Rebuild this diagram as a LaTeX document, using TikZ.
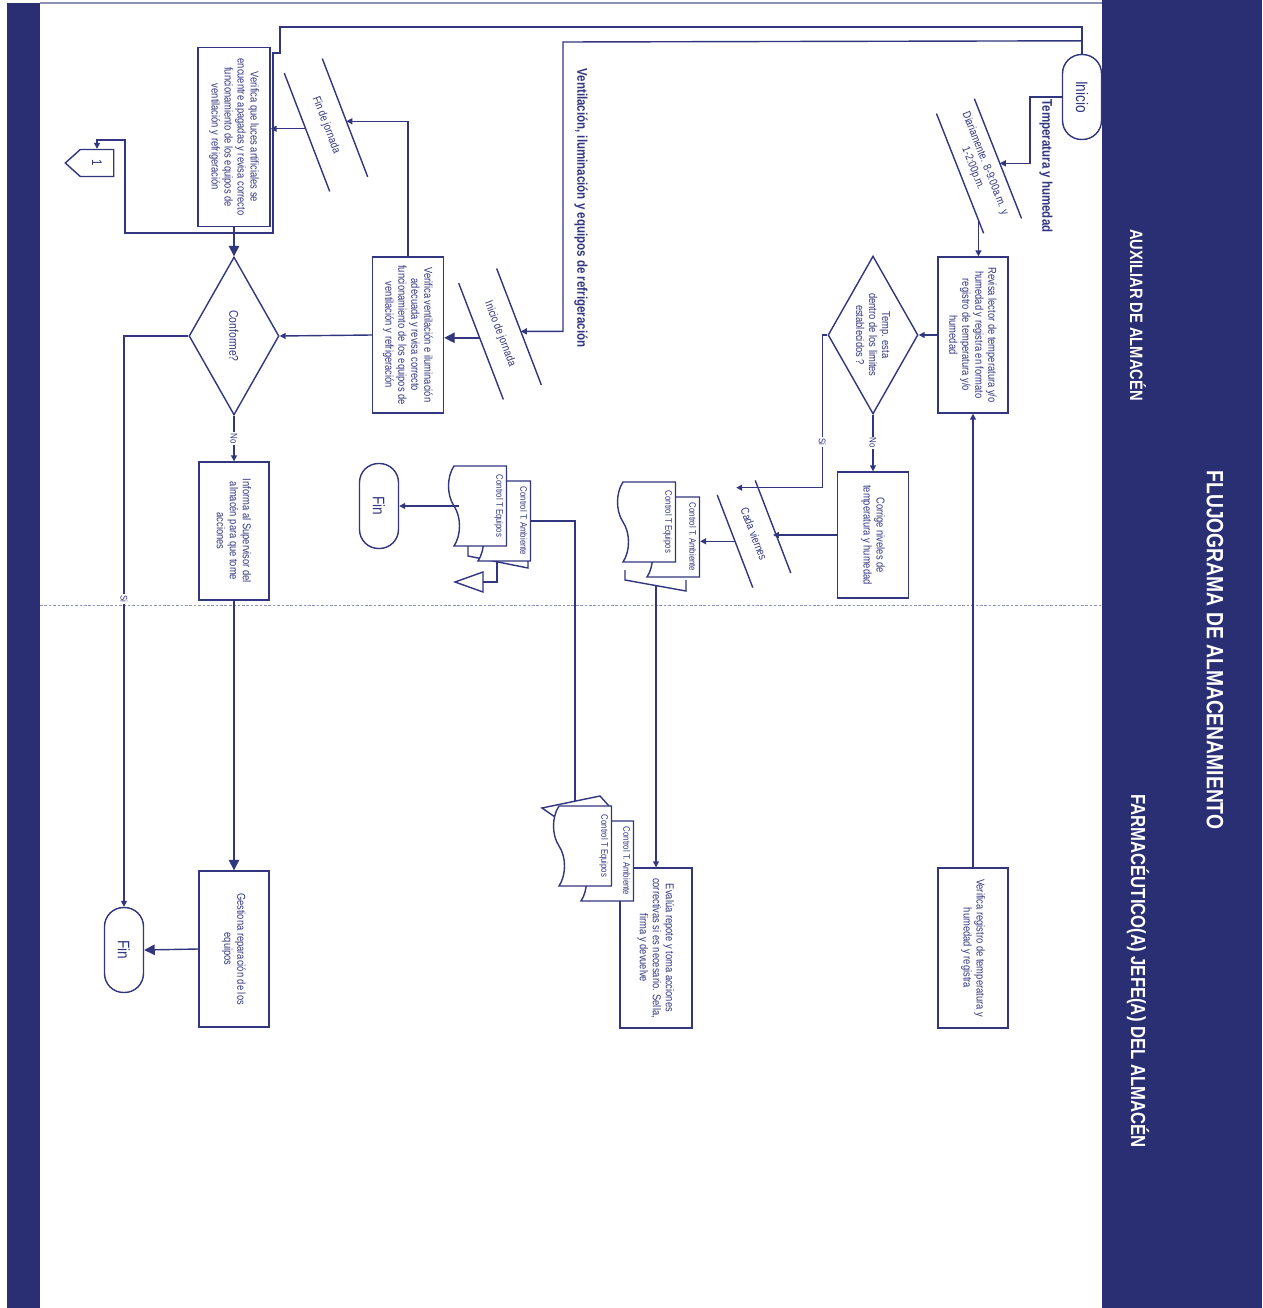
\documentclass[tikz,border=0pt]{standalone}
\usepackage{fontspec}
\setmainfont[FakeStretch=0.82]{Liberation Sans}
\usetikzlibrary{shapes.geometric,shapes.symbols,arrows.meta,calc,positioning}
\definecolor{navyband}{RGB}{42,47,116}
\definecolor{flowline}{RGB}{50,54,126}
\definecolor{framegrey}{RGB}{140,146,180}
\newcommand{\flowtxt}{\fontsize{6.5}{7.4}\selectfont}
\newcommand{\ioedges}[1]{\draw[ln] (#1.north west) -- (#1.north east) (#1.south west) -- (#1.south east);}

\begin{document}
\begin{tikzpicture}[x=0.02cm,y=-0.02cm,
    ln/.style={draw=flowline,line width=0.8pt},
    arr/.style={ln,-{Triangle[width=3.4pt,length=3.4pt]}},
    arrb/.style={ln,-{Triangle[width=6pt,length=6pt]}},
    act/.style={draw=flowline,line width=0.8pt,fill=white,rotate=-90,
                minimum width=3.12cm,minimum height=1.4cm,inner sep=2pt,
                align=center,text=flowline,font=\flowtxt},
    dec/.style={diamond,aspect=1.75,draw=flowline,line width=0.8pt,rotate=-90,
                minimum width=3.16cm,minimum height=1.8cm,inner sep=0pt,
                align=center,text=flowline,font=\flowtxt},
    term/.style={draw=flowline,line width=0.8pt,fill=white,rotate=-90,
                 rounded corners=0.38cm,minimum width=1.7cm,minimum height=0.78cm,
                 inner sep=0pt,text=flowline,font=\fontsize{9.5}{11}\selectfont},
    slantbox/.style={rotate=-69,minimum width=2.52cm,minimum height=0.8cm,
                     inner sep=0pt,align=center,text=flowline,font=\flowtxt},
    docbox/.style={tape,tape bend top=none,tape bend height=0.22cm,draw=flowline,
                   line width=0.8pt,fill=white,rotate=-90,minimum width=1.6cm,
                   minimum height=1.16cm,inner sep=0pt},
    doclbl/.style={rotate=-90,anchor=north,inner sep=2pt,text=flowline,
                   font=\fontsize{5.4}{6}\selectfont},
    offpage/.style={signal,signal to=south,signal pointer angle=84,draw=flowline,
                    line width=0.8pt,rotate=-90,minimum width=0.54cm,minimum height=0.74cm,
                    inner sep=0pt,text=flowline,font=\fontsize{8}{9}\selectfont},
    lbl/.style={fill=white,inner sep=0.8pt,rotate=-90,text=flowline,
                font=\fontsize{5.5}{6}\selectfont},
    ttl/.style={rotate=-90,text=flowline,font=\bfseries\fontsize{8}{9}\selectfont},
    lane/.style={rotate=-90,text=white,font=\bfseries\fontsize{10.2}{12}\selectfont}]

\useasboundingbox (0,0) rectangle (1262,1308);
\fill[white] (0,0) rectangle (1262,1308);
\draw[framegrey,line width=0.6pt] (40,3) -- (1102,3);
\draw[framegrey,line width=0.5pt,dash pattern=on 1.5pt off 1pt] (40,605) -- (1102,605);

% auxiliar: temperatura y humedad
\node[term] (inicio) at (1082,97) {Inicio};
\node[ttl] (ttemp) at (1046,166) {Temperatura y humedad};
\node[slantbox,rotate=0.5,minimum width=2.56cm] (diario) at (979,166) {Diariamente. 8-9:00a.m. y\\1-2:00p.m.};
\ioedges{diario}
\node[act] (revisa) at (973,335) {Revisa lector de temperatura y/o\\humedad y registra en formato\\registro de temperatura y/o\\humedad};
\node[dec] (tdec) at (873,335) {Temp. esta\\dentro de los limites\\establecidos ?};
\node[act,minimum width=2.52cm,minimum height=1.42cm] (corrige) at (873,535) {Corrige niveles de\\temperatura y humedad};
\node[slantbox,minimum width=1.97cm] (viernes) at (754,534) {Cada viernes};
\ioedges{viernes}

% registros control T
\draw[ln,fill=white] (625,570) -- (625,580) -- (686,591) -- (686,580);
\node[docbox] (amb1) at (676,537) {};
\node[doclbl] (amb1t) at (amb1.north) {Control T. Ambiente};
\node[docbox] (equ1) at (652,522) {};
\node[doclbl] (equ1t) at (equ1.north) {Control T Equipos};

\draw[ln] (468,546) -- (468,556) -- (528,568) -- (528,560);
\node[docbox] (amb2) at (507,521) {};
\node[doclbl] (amb2t) at (amb2.north) {Control T. Ambiente};
\node[docbox] (equ2) at (483,506) {};
\node[doclbl] (equ2t) at (equ2.north) {Control T Equipos};
\coordinate (tri2) at (483,582);
\draw[ln,fill=white] (tri2) ++(0,-10) -- ++(-28,10) -- ++(28,10) -- cycle;
\node[term] (fin1) at (379,506) {Fin};

% ventilacion, iluminacion y refrigeracion
\node[ttl] (tvent) at (581,208) {Ventilación, iluminación y equipos de refrigeración};
\node[slantbox,minimum width=2.48cm] (jor1) at (500,334) {Inicio de jornada};
\ioedges{jor1}
\node[act,minimum height=1.42cm] (venti) at (408,335) {Verifica ventilación e iluminación\\adecuada y revisa correcto\\funcionamiento de los equipos de\\ventilación y refrigeración};
\node[slantbox] (jfin) at (326,125) {Fin de jornada};
\ioedges{jfin}
\node[act,minimum width=3.58cm,minimum height=1.44cm] (luces) at (234,137) {Verifica que luces artificiales se\\encuentre apagadas y revisa correcto\\funcionamiento de los equipos de\\ventilación y refrigeración};
\node[offpage] (conn1) at (97,163) {1};
\node[dec,font=\fontsize{7.2}{8}\selectfont] (conf) at (234,336) {Conforme?};
\node[act,minimum width=2.76cm] (informa) at (234,531) {Informa al Supervisor del\\almacén para que tome\\acciones};

% farmaceutico jefe
\node[act,minimum width=3.2cm] (verreg) at (973,948) {Verifica registro de temperatura y\\humedad y registra};
\node[act,minimum width=3.2cm,minimum height=1.44cm] (evalua) at (656,948) {Evalúa repote y toma acciones\\correctivas si es necesario. Sella,\\firma y devuelve};
\draw[ln,fill=white] (555,817) -- (542,808) -- (600,796) -- (609,806);
\node[docbox] (amb3) at (610,861) {};
\node[doclbl] (amb3t) at (amb3.north) {Control T. Ambiente};
\node[docbox] (equ3) at (588,846) {};
\node[doclbl] (equ3t) at (equ3.north) {Control T Equipos};
\coordinate (tilt3) at ($(equ3.center)+(-13,-45)$);
\node[act] (gestiona) at (234,949) {Gestiona reparación de los\\equipos};
\node[term] (fin2) at (124,950) {Fin};

% conectores
\draw[arr] (inicio.south) -- (1030,97) |- ($(diario.north west)!0.54!(diario.north east)$);
\draw[arr] ($(diario.south west)!0.89!(diario.south east)$) coordinate (d2) -- (d2 |- revisa.west);
\draw[arr] (revisa.south) -- (tdec.north);
\draw[arr] (tdec.east) -- node[lbl]{No} (corrige.west);
\draw[arr] (tdec.south) -- ++(-5,0) |- node[lbl,pos=0.35]{Si} (viernes.west);
\draw[arr] (corrige.south) -- (corrige.south -| viernes.north);
\draw[arr] (viernes.south) -- (viernes.south -| amb1.north);
\draw[arr] ($(amb1.center)+(-20,49)$) coordinate (s1) -- (s1 |- evalua.west);
\draw[arr] (verreg.west) -- (revisa.east);
\draw[ln] (amb2.north) -| (tilt3);
\draw[ln] ($(amb2.center)+(-10,41)$) |- (tri2);
\draw[arr] (equ2.south) -- (fin1.north);

\draw[arr] (inicio.west) |- (280,27) -- (280,53) -- (273,53) -- (273,233) -- (125,233) -- (125,140) -| (conn1.west);
\draw[arr] ($(inicio.west)+(0,-13)$) -- (563,42) |- ($(jor1.north west)!0.54!(jor1.north east)$);
\draw[arrb] ($(jor1.south west)!0.47!(jor1.south east)$) coordinate (ja) -- (ja -| venti.north);
\draw[arr] (venti.south) -- (conf.north);
\draw[arr] (venti.west) |- ($(jfin.north west)!0.53!(jfin.north east)$);
\draw[arr] ($(jfin.south west)!0.47!(jfin.south east)$) coordinate (jf) -- (jf -| luces.north);
\draw[arrb] (luces.east) -- (conf.west);
\draw[arr] (conf.east) -- node[lbl]{No} (informa.west);
\draw[arr] (conf.south) -| node[lbl,pos=0.73]{Si} (fin2.west);
\draw[arrb] (informa.east) -- (gestiona.west);
\draw[arrb] (gestiona.south) -- (fin2.north);

% cabecera
\fill[navyband] (1102,0) rectangle (1262,1308);
\fill[navyband] (7,3) rectangle (40,1308);
\node[lane] (laneA) at (1138,315) {AUXILIAR DE ALMACÉN};
\node[lane,font=\bfseries\fontsize{13.4}{15}\selectfont] (titulo) at (1215,650) {FLUJOGRAMA DE ALMACENAMIENTO};
\node[lane,font=\bfseries\fontsize{11.6}{13}\selectfont] (laneB) at (1138,971) {FARMACÉUTICO(A) JEFE(A) DEL ALMACÉN};
\end{tikzpicture}
\end{document}
